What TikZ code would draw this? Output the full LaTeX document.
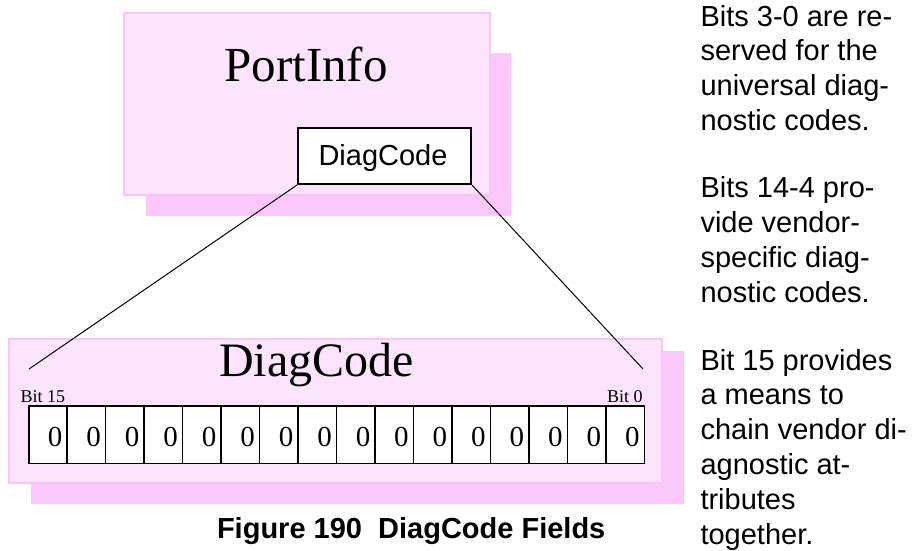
\documentclass[tikz,border=0pt]{standalone}
\usepackage{fontspec}
\setmainfont{Liberation Serif}
\setsansfont{Liberation Sans}
\definecolor{frontpink}{RGB}{253,228,253}
\definecolor{shadowpink}{RGB}{252,200,252}
\definecolor{edgepink}{RGB}{249,196,249}
\tikzset{
  shadowbox/.style={fill=shadowpink, draw=none},
  frontbox/.style={fill=frontpink, draw=edgepink, line width=1.2pt},
  txt/.style={inner sep=0pt, outer sep=0pt},
  para/.style={txt, anchor=base west, font=\sffamily\fontsize{29}{35}\selectfont},
  bitcell/.style={draw=black, fill=white, line width=1.6pt, minimum width=38.475pt, minimum height=57.5pt, inner sep=0pt},
  bitval/.style={txt, anchor=base, font=\fontsize{29}{35}\selectfont},
  bitlbl/.style={txt, font=\fontsize{18}{22}\selectfont},
  conn/.style={draw=black, line width=1pt}
}
\begin{document}
\begin{tikzpicture}[x=1pt,y=-1pt]
\useasboundingbox (0,0) rectangle (920,550);
% top PortInfo box
\fill[shadowbox] (146,53) rectangle (511,216);
\draw[frontbox] (124,13) rectangle (490,195);
\node[txt, anchor=base, font=\fontsize{49}{58}\selectfont] (portinfo) at (306,81.5) {PortInfo};
\node[draw=black, fill=white, line width=2pt, minimum width=173pt, minimum height=56pt, inner sep=0pt] (dcbox) at (384.5,156) {};
\node[txt, anchor=base, font=\sffamily\fontsize{29}{35}\selectfont] (dctext) at (383,165.7) {DiagCode};
% bottom DiagCode box
\fill[shadowbox] (31,351) rectangle (684,504);
\draw[frontbox] (9,339) rectangle (662,483);
\node[txt, anchor=base, font=\fontsize{48}{58}\selectfont] (dcbig) at (316.5,376.7) {DiagCode};
\node[bitlbl, anchor=base west] (bit15) at (20.5,402) {Bit 15};
\node[bitlbl, anchor=base east] (bit0) at (642.5,402) {Bit 0};
\foreach \i in {0,...,15} {
  \node[bitcell] (b\i) at ({28.7+38.475*\i+19.2375},434.75) {};
  \node[bitval] (z\i) at ({28.7+38.475*\i+26.5},446.7) {0};
}
% connectors
\coordinate (lend) at (29,369);
\coordinate (rend) at (643,369);
\draw[conn] (dcbox.south west) -- (lend);
\draw[conn] (dcbox.south east) -- (rend);
% caption
\node[txt, anchor=base west, font=\sffamily\bfseries\fontsize{29}{35}\selectfont] (caption) at (217,538) {Figure 190~~DiagCode Fields};
% right column text
\foreach \t [count=\i] in {Bits 3-0 are re-, served for the, universal diag-, nostic codes.}
  \node[para] (pa\i) at (700.5,{26+34.8*(\i-1)}) {\t};
\foreach \t [count=\i] in {Bits 14-4 pro-, vide vendor-, specific diag-, nostic codes.}
  \node[para] (pb\i) at (700.5,{197.7+34.8*(\i-1)}) {\t};
\foreach \t [count=\i] in {Bit 15 provides, a means to, chain vendor di-, agnostic at-, tributes, together.}
  \node[para] (pc\i) at (700.5,{370+34.8*(\i-1)}) {\t};
\end{tikzpicture}
\end{document}
